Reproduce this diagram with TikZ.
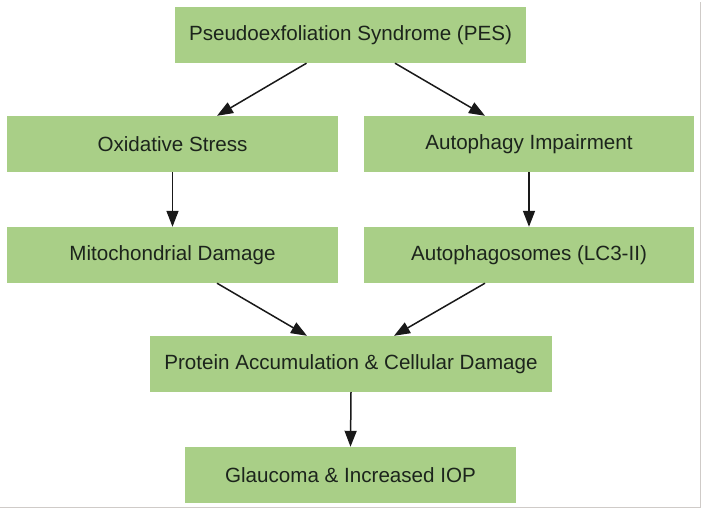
\documentclass[tikz,border=0pt]{standalone}
\usepackage{fontspec}
\setmainfont{Liberation Sans}
\usetikzlibrary{arrows.meta}
\definecolor{boxgreen}{HTML}{A9CF87}
\definecolor{txt}{HTML}{1C241C}
\definecolor{edge}{HTML}{CFCBC8}
\tikzset{
  stepbox/.style={fill=boxgreen, draw=none, inner sep=0pt, minimum height=56pt,
    text=txt, font=\fontsize{20.6}{24}\selectfont, anchor=center},
  conn/.style={draw=black!90, line width=1.5pt, -{Triangle[length=16pt,width=12pt]}, shorten >=0pt}
}
\begin{document}
\begin{tikzpicture}[x=1pt,y=-1pt]
\fill[white] (0,0) rectangle (702,510);
\useasboundingbox (0,0) rectangle (702,510);
\draw[edge, line width=1.5pt] (0,507.5) -- (700.5,507.5) -- (700.5,2);

\node[stepbox, minimum width=351pt] (pes) at (350.5,35) {Pseudoexfoliation Syndrome (PES)};
\node[stepbox, minimum width=331pt] (ox) at (172.5,144) {Oxidative Stress};
\node[stepbox, minimum width=330pt] (au) at (529,144) {Autophagy Impairment};
\node[stepbox, minimum width=331pt] (mi) at (172.5,255) {Mitochondrial Damage};
\node[stepbox, minimum width=330pt] (lc) at (529,255) {Autophagosomes (LC3-II)};
\node[stepbox, minimum width=402pt] (pr) at (351,364) {Protein Accumulation \& Cellular Damage};
\node[stepbox, minimum width=331pt] (gl) at (350.5,475) {Glaucoma \& Increased IOP};

\draw[conn] ([xshift=-44pt]pes.south) -- ([xshift=44.5pt]ox.north);
\draw[conn] ([xshift=44.5pt]pes.south) -- ([xshift=-44pt]au.north);
\draw[conn] (ox.south) -- (mi.north);
\draw[conn] (au.south) -- (lc.north);
\draw[conn] ([xshift=44.5pt]mi.south) -- ([xshift=-44pt]pr.north);
\draw[conn] ([xshift=-44pt]lc.south) -- ([xshift=43pt]pr.north);
\draw[conn] (pr.south) -- (gl.north);
\end{tikzpicture}
\end{document}
